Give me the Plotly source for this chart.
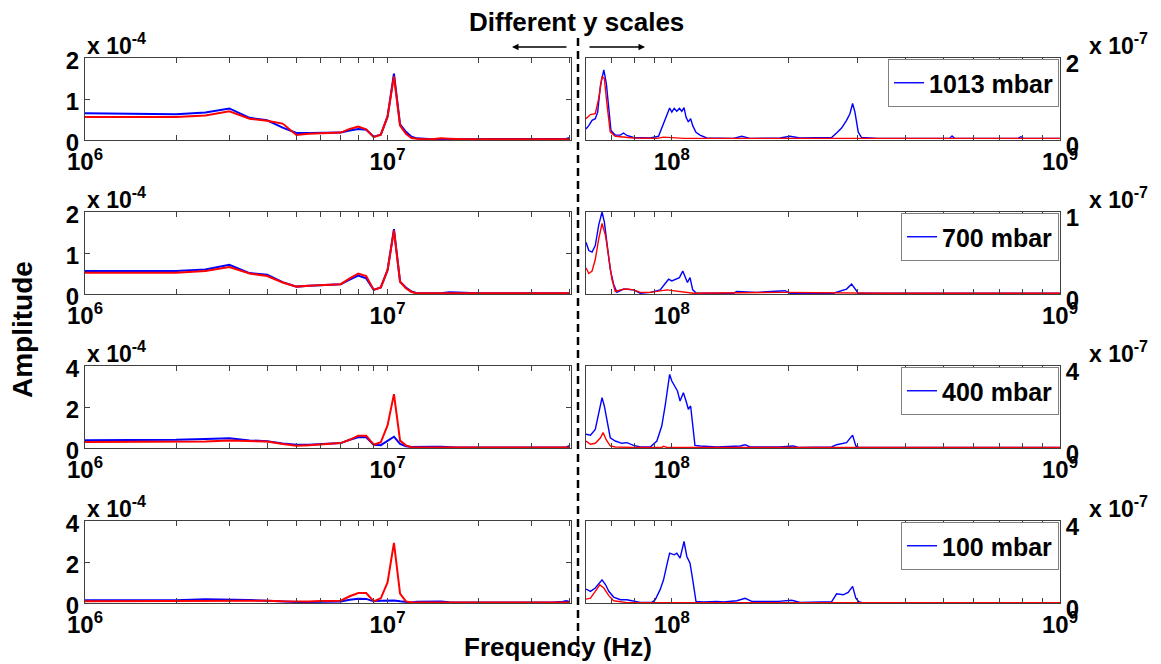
import math
import plotly.graph_objects as go

# The page body keeps an 8 px margin, so the figure is 8 px smaller and all
# pixel positions below (measured on the 1161x664 reference) are shifted by 8.
PAGE_OFF = 8
W, H = 1161 - PAGE_OFF, 664 - PAGE_OFF

# ---------------- data ----------------
# Left panels: frequency in MHz, amplitude in units of 1e-4
left_freq_mhz = [1, 1.5, 2, 2.5, 3, 3.5, 4, 4.5, 5, 5.5, 6, 6.5, 7, 7.5, 8, 8.5, 9, 9.5,
                 10, 10.5, 11, 11.5, 12, 12.5, 13, 14, 15, 16, 17, 18, 20, 25, 30, 35, 38, 39, 40]

l1013_blue = [0.65, 0.64, 0.63, 0.67, 0.77, 0.54, 0.48, 0.30, 0.17, 0.17, 0.17, 0.17, 0.18, 0.23, 0.27, 0.25, 0.08, 0.13,
              0.57, 1.62, 0.38, 0.20, 0.08, 0.04, 0.03, 0.02, 0.02, 0.02, 0.02, 0.02, 0.02, 0.02, 0.02, 0.02, 0.02, 0.03, 0.05]
l1013_red = [0.56, 0.56, 0.56, 0.60, 0.70, 0.52, 0.47, 0.40, 0.12, 0.15, 0.16, 0.17, 0.18, 0.27, 0.33, 0.26, 0.07, 0.13,
             0.57, 1.55, 0.35, 0.15, 0.05, 0.03, 0.02, 0.02, 0.04, 0.03, 0.02, 0.02, 0.02, 0.02, 0.02, 0.02, 0.02, 0.02, 0.02]
l700_blue = [0.56, 0.56, 0.56, 0.60, 0.71, 0.51, 0.47, 0.29, 0.18, 0.20, 0.22, 0.23, 0.24, 0.35, 0.45, 0.38, 0.10, 0.16,
             0.58, 1.58, 0.30, 0.16, 0.06, 0.02, 0.02, 0.02, 0.02, 0.04, 0.03, 0.02, 0.02, 0.02, 0.02, 0.02, 0.02, 0.02, 0.02]
l700_red = [0.52, 0.52, 0.52, 0.56, 0.66, 0.50, 0.44, 0.28, 0.18, 0.20, 0.22, 0.23, 0.24, 0.38, 0.50, 0.44, 0.10, 0.16,
            0.58, 1.55, 0.30, 0.14, 0.05, 0.02, 0.02, 0.02, 0.02, 0.03, 0.02, 0.02, 0.02, 0.02, 0.02, 0.02, 0.02, 0.02, 0.02]
l400_blue = [0.38, 0.39, 0.40, 0.44, 0.47, 0.37, 0.33, 0.22, 0.16, 0.16, 0.20, 0.22, 0.24, 0.40, 0.52, 0.52, 0.16, 0.14,
             0.33, 0.55, 0.20, 0.08, 0.05, 0.06, 0.06, 0.06, 0.06, 0.06, 0.03, 0.02, 0.02, 0.02, 0.02, 0.02, 0.02, 0.04, 0.10]
l400_red = [0.29, 0.29, 0.29, 0.32, 0.36, 0.33, 0.32, 0.20, 0.11, 0.14, 0.18, 0.20, 0.24, 0.40, 0.60, 0.60, 0.16, 0.28,
            1.10, 2.63, 0.36, 0.13, 0.04, 0.02, 0.02, 0.02, 0.02, 0.02, 0.02, 0.02, 0.02, 0.02, 0.02, 0.02, 0.02, 0.02, 0.02]
l100_blue = [0.14, 0.14, 0.14, 0.18, 0.17, 0.15, 0.11, 0.07, 0.05, 0.05, 0.05, 0.06, 0.07, 0.16, 0.21, 0.20, 0.08, 0.11,
             0.12, 0.12, 0.08, 0.04, 0.03, 0.06, 0.07, 0.07, 0.07, 0.04, 0.03, 0.02, 0.02, 0.02, 0.02, 0.02, 0.06, 0.10, 0.05]
l100_red = [0.09, 0.10, 0.12, 0.11, 0.12, 0.12, 0.11, 0.08, 0.06, 0.07, 0.10, 0.10, 0.11, 0.33, 0.49, 0.49, 0.08, 0.23,
            1.00, 2.93, 0.46, 0.08, 0.03, 0.02, 0.02, 0.02, 0.02, 0.02, 0.02, 0.02, 0.02, 0.02, 0.02, 0.02, 0.02, 0.02, 0.02]

# Right panels: frequency in MHz, amplitude in units of 1e-7
r1013_blue_f = [60.1, 61.1, 62.3, 63.5, 64.4, 65.5, 66.8, 67.8, 68.8, 69.7, 71.5, 73.7, 75.1, 76.6, 79.7, 88.0, 92.4,
                95.2, 97.1, 98.7, 100.0, 101.4, 103.0, 104.6, 106.1, 107.5, 108.8, 110.3, 111.8, 113.2, 115.4, 118.2,
                123.0, 144.1, 151.4, 155.9, 159.0, 190.0, 201.6, 214.0, 258.0, 265.7, 273.7, 281.9, 287.6, 292.2,
                296.3, 302.2, 308.2, 339.5, 400, 520, 527, 535, 780, 793, 805, 1000]
r1013_blue_a = [0.27, 0.35, 0.48, 0.52, 0.68, 1.34, 1.71, 1.38, 0.77, 0.23, 0.12, 0.12, 0.17, 0.11, 0.06, 0.05, 0.09,
                0.40, 0.60, 0.78, 0.68, 0.77, 0.70, 0.77, 0.70, 0.79, 0.56, 0.44, 0.52, 0.35, 0.19, 0.12,
                0.05, 0.04, 0.09, 0.07, 0.04, 0.05, 0.09, 0.05, 0.06, 0.17, 0.29, 0.48, 0.64, 0.89,
                0.68, 0.19, 0.06, 0.04, 0.04, 0.04, 0.10, 0.04, 0.04, 0.08, 0.04, 0.04]
r1013_red_f = [60.1, 61.7, 63.5, 64.8, 66.1, 67.0, 68.1, 69.4, 71.5, 79.7, 91.5, 95.2, 107.5, 1000]
r1013_red_a = [0.52, 0.62, 0.64, 1.01, 1.55, 1.50, 0.85, 0.20, 0.09, 0.05, 0.04, 0.07, 0.04, 0.04]

r700_blue_f = [60.1, 61.1, 62.3, 63.5, 64.8, 66.1, 67.0, 68.1, 69.4, 70.8, 72.2, 75.1, 79.7, 82.9, 88.0, 93.3, 96.1,
               98.1, 100.0, 103.0, 104.6, 106.7, 108.2, 109.7, 111.4, 113.2, 115.8, 144.1, 147.0, 165.5, 195.7,
               201.6, 260.6, 268.3, 281.9, 290.5, 296.3, 302.2, 1000]
r700_blue_a = [0.63, 0.53, 0.51, 0.59, 0.84, 1.00, 0.88, 0.59, 0.30, 0.12, 0.02, 0.06, 0.05, 0.01, 0.02, 0.05, 0.12,
               0.18, 0.16, 0.18, 0.20, 0.28, 0.22, 0.14, 0.20, 0.05, 0.01, 0.01, 0.03, 0.02, 0.04,
               0.01, 0.01, 0.03, 0.06, 0.12, 0.07, 0.01, 0.01]
r700_red_f = [60.1, 61.1, 62.3, 63.5, 64.8, 66.1, 67.5, 68.8, 70.1, 71.5, 73.7, 76.6, 79.7, 82.9, 88.0, 97.1, 107.5,
              113.6, 193.8, 350, 1000]
r700_red_a = [0.32, 0.25, 0.28, 0.42, 0.67, 0.86, 0.71, 0.42, 0.18, 0.03, 0.05, 0.06, 0.05, 0.02, 0.02, 0.05, 0.03,
              0.01, 0.02, 0.01, 0.01]

r400_blue_f = [60.1, 61.7, 63.5, 64.8, 66.1, 67.0, 68.1, 69.4, 71.5, 74.4, 76.6, 79.7, 82.9, 88.0, 91.5, 94.2, 96.1,
               97.5, 98.7, 100.0, 102.0, 103.4, 105.0, 107.1, 108.8, 110.3, 111.8, 113.2, 114.7, 118.2, 130.6,
               150.0, 154.5, 159.0, 190.0, 205.6, 211.8, 258.0, 265.7, 281.9, 292.2, 297.9, 303.2, 1000]
r400_blue_a = [0.67, 0.62, 0.91, 1.72, 2.46, 2.05, 1.24, 0.50, 0.34, 0.23, 0.26, 0.13, 0.05, 0.05, 0.34, 1.07, 2.05,
               3.02, 3.59, 3.27, 2.94, 2.78, 2.29, 2.70, 2.29, 1.89, 2.05, 1.15, 0.13, 0.10, 0.05,
               0.10, 0.16, 0.05, 0.05, 0.10, 0.03, 0.05, 0.16, 0.26, 0.63, 0.10, 0.03, 0.03]
r400_red_f = [60.1, 61.7, 63.5, 65.5, 66.5, 67.8, 69.4, 71.5, 79.7, 94.2, 95.2, 97.1, 1000]
r400_red_a = [0.34, 0.18, 0.23, 0.50, 0.75, 0.39, 0.10, 0.05, 0.03, 0.03, 0.08, 0.03, 0.03]

r100_blue_f = [60.1, 61.7, 63.5, 65.2, 66.1, 67.5, 68.8, 70.8, 73.7, 76.6, 79.7, 82.9, 88.8, 90.6, 93.3, 95.2, 97.1,
               98.7, 101.4, 103.0, 105.0, 106.5, 107.5, 109.3, 111.4, 113.2, 115.4, 120.6, 130.6, 135.8, 147.0,
               154.5, 160.6, 188.1, 203.6, 214.0, 258.0, 265.7, 276.4, 284.6, 292.2, 297.9, 303.2, 310.4, 1000]
r100_blue_a = [0.68, 0.57, 0.73, 0.97, 1.13, 0.89, 0.57, 0.29, 0.16, 0.16, 0.11, 0.03, 0.03, 0.16, 0.65, 1.13, 1.86,
               2.43, 2.35, 2.43, 2.19, 2.67, 3.00, 2.27, 1.94, 1.13, 0.08, 0.05, 0.08, 0.05, 0.11,
               0.23, 0.08, 0.08, 0.13, 0.03, 0.06, 0.45, 0.40, 0.52, 0.81, 0.24, 0.06, 0.00, 0.00]
r100_red_f = [60.1, 61.7, 63.5, 65.2, 66.8, 68.8, 70.8, 73.7, 76.6, 1000]
r100_red_a = [0.19, 0.24, 0.57, 0.89, 0.73, 0.36, 0.11, 0.06, 0.02, 0.02]

pressures = ["1013 mbar", "700 mbar", "400 mbar", "100 mbar"]
left_blue = [l1013_blue, l700_blue, l400_blue, l100_blue]
left_red = [l1013_red, l700_red, l400_red, l100_red]
right_blue = [(r1013_blue_f, r1013_blue_a), (r700_blue_f, r700_blue_a),
              (r400_blue_f, r400_blue_a), (r100_blue_f, r100_blue_a)]
right_red = [(r1013_red_f, r1013_red_a), (r700_red_f, r700_red_a),
             (r400_red_f, r400_red_a), (r100_red_f, r100_red_a)]
left_ymax = [2, 2, 4, 4]
left_yticks = [[0, 1, 2], [0, 1, 2], [0, 2, 4], [0, 2, 4]]
right_ymax = [2, 1, 4, 4]
right_yticks = [[0, 2], [0, 1], [0, 4], [0, 4]]

left_xrange_hz = (1e6, 4.04e7)
right_xrange_hz = (6.01e7, 1e9)

# ---------------- layout geometry (reference pixels) ----------------
LX0, LX1 = 85, 571
RX0, RX1 = 586, 1060
TOPS = [58, 212, 366, 521]
PH = 82

BLUE = "#0000FF"
RED = "#FF0000"
AXC = "#404040"
FONT = "Liberation Sans"


def px(x):
    return (x - PAGE_OFF) / W


def py(y):
    return 1 - (y - PAGE_OFF) / H


def sup(e):
    return "10<sup>%d</sup>" % e


fig = go.Figure()

tickfont = dict(family=FONT, size=24, color="black", weight="bold")

left_tickvals, left_ticktext = [], []
for dec in (1e6, 1e7):
    for m in range(1, 10):
        v = m * dec
        if v <= left_xrange_hz[1]:
            left_tickvals.append(v)
            left_ticktext.append(sup(int(round(math.log10(dec)))) if m == 1 else "")
right_tickvals, right_ticktext = [], []
for dec in (1e7, 1e8, 1e9):
    for m in range(1, 10):
        v = m * dec
        if right_xrange_hz[0] <= v <= right_xrange_hz[1]:
            right_tickvals.append(v)
            right_ticktext.append(sup(int(round(math.log10(dec)))) if m == 1 else "")

layout = {}
for i in range(4):
    top = TOPS[i]
    ydom = [py(top + PH), py(top)]
    li, ri = 2 * i + 1, 2 * i + 2
    lname = "" if li == 1 else str(li)
    rname = str(ri)
    common = dict(showline=True, linecolor=AXC, linewidth=1, mirror="ticks", ticks="inside",
                  ticklen=5, tickcolor=AXC, showgrid=False, zeroline=False, tickfont=tickfont)
    layout["xaxis" + lname] = dict(common, type="log", domain=[px(LX0), px(LX1)], anchor="y" + lname,
                                   range=[math.log10(left_xrange_hz[0]), math.log10(left_xrange_hz[1])],
                                   tickmode="array", tickvals=left_tickvals, ticktext=left_ticktext)
    layout["yaxis" + lname] = dict(common, domain=ydom, anchor="x" + lname, range=[0, left_ymax[i]],
                                   tickmode="array", tickvals=left_yticks[i], ticklabelshift=3,
                                   ticktext=[str(v) for v in left_yticks[i]])
    layout["xaxis" + rname] = dict(common, type="log", domain=[px(RX0), px(RX1)], anchor="y" + rname,
                                   range=[math.log10(right_xrange_hz[0]), math.log10(right_xrange_hz[1])],
                                   tickmode="array", tickvals=right_tickvals, ticktext=right_ticktext)
    layout["yaxis" + rname] = dict(common, domain=ydom, anchor="x" + rname, side="right",
                                   range=[0, right_ymax[i]], tickmode="array", tickvals=right_yticks[i],
                                   ticklabelshift=6, ticktext=[str(v) for v in right_yticks[i]])
    leg = "legend" if i == 0 else "legend%d" % (i + 1)
    layout[leg] = dict(x=px(RX1 - 1), xanchor="right", y=py(top + 1), yanchor="top",
                       bgcolor="white", bordercolor="#808080", borderwidth=1,
                       font=dict(family=FONT, size=25, color="black", weight="bold"),
                       itemwidth=30, tracegroupgap=0)

    lf = [f * 1e6 for f in left_freq_mhz]
    fig.add_trace(go.Scatter(x=lf, y=left_blue[i], mode="lines", line=dict(color=BLUE, width=2),
                             xaxis="x" + lname, yaxis="y" + lname, showlegend=False))
    fig.add_trace(go.Scatter(x=lf, y=left_red[i], mode="lines", line=dict(color=RED, width=2),
                             xaxis="x" + lname, yaxis="y" + lname, showlegend=False))
    bf, ba = right_blue[i]
    rf, ra = right_red[i]
    fig.add_trace(go.Scatter(x=[f * 1e6 for f in bf], y=ba, mode="lines", line=dict(color=BLUE, width=1.4),
                             xaxis="x" + rname, yaxis="y" + rname, name=pressures[i],
                             legend=leg, showlegend=True))
    fig.add_trace(go.Scatter(x=[f * 1e6 for f in rf], y=ra, mode="lines", line=dict(color=RED, width=1.4),
                             xaxis="x" + rname, yaxis="y" + rname, showlegend=False))

annots = []
afont = dict(family=FONT, size=23, color="black", weight="bold")
for i in range(4):
    top = TOPS[i]
    annots.append(dict(x=px(LX0), y=py(top - 14), xref="paper", yref="paper", xanchor="left",
                       yanchor="middle", text="x 10<sup>-4</sup>", showarrow=False, font=afont))
    annots.append(dict(x=px(RX1 + 27), y=py(top - 14), xref="paper", yref="paper", xanchor="left",
                       yanchor="middle", text="x 10<sup>-7</sup>", showarrow=False, font=afont))
annots.append(dict(x=px(576), y=py(22), xref="paper", yref="paper", xanchor="center", yanchor="middle",
                   text="Different y scales", showarrow=False,
                   font=dict(family=FONT, size=26, color="black", weight="bold")))
annots.append(dict(x=px(512), y=py(47), xref="paper", yref="paper", text="", showarrow=True,
                   ax=56, ay=0, arrowhead=2, arrowsize=1, arrowwidth=1.3, arrowcolor="black"))
annots.append(dict(x=px(645), y=py(47), xref="paper", yref="paper", text="", showarrow=True,
                   ax=-57, ay=0, arrowhead=2, arrowsize=1, arrowwidth=1.3, arrowcolor="black"))
annots.append(dict(x=px(22), y=py(330), xref="paper", yref="paper", xanchor="center", yanchor="middle",
                   text="Amplitude", textangle=-90, showarrow=False,
                   font=dict(family=FONT, size=28, color="black", weight="bold")))
annots.append(dict(x=px(558), y=py(647), xref="paper", yref="paper", xanchor="center", yanchor="middle",
                   text="Frequency (Hz)", showarrow=False,
                   font=dict(family=FONT, size=26, color="black", weight="bold")))

shapes = [dict(type="line", xref="paper", yref="paper", x0=px(578), x1=px(578), y0=py(38), y1=py(660),
               line=dict(color="black", width=2.5, dash="8px,5px"))]

fig.update_layout(width=W, height=H, margin=dict(l=0, r=0, t=0, b=0, autoexpand=False),
                  paper_bgcolor="white", plot_bgcolor="white", annotations=annots, shapes=shapes,
                  **layout)

fig.write_html("out.html")
